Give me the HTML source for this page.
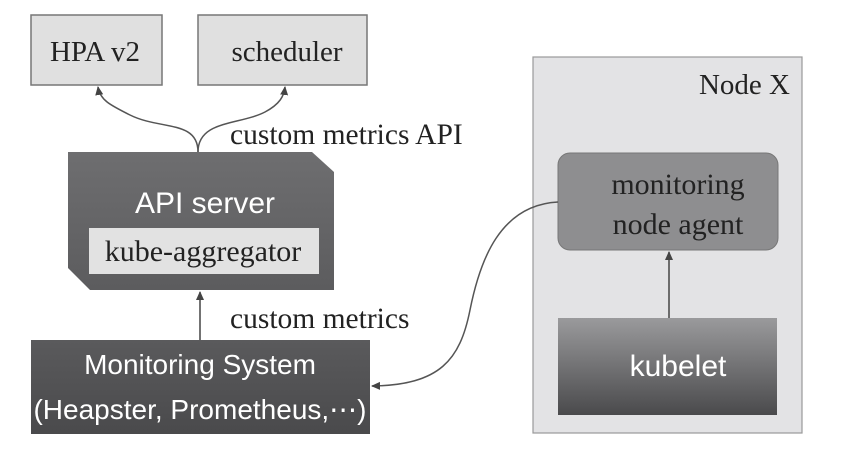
<!DOCTYPE html>
<html><head><meta charset="utf-8"><style>
body{margin:0;background:#fff;}
svg{display:block;}
.s{font-family:"Liberation Serif",serif;fill:#222;}
.a{font-family:"Liberation Sans",sans-serif;fill:#fff;}
</style></head><body>
<svg width="851" height="456" viewBox="0 0 851 456">
<defs>
<linearGradient id="k" x1="0" y1="0" x2="0" y2="1"><stop offset="0" stop-color="#9a9a9c"/><stop offset="1" stop-color="#4a4a4c"/></linearGradient>
<linearGradient id="ap" x1="0" y1="0" x2="0" y2="1"><stop offset="0" stop-color="#6e6e70"/><stop offset="1" stop-color="#5c5c5e"/></linearGradient>
<linearGradient id="ms" x1="0" y1="0" x2="0" y2="1"><stop offset="0" stop-color="#5a5a5c"/><stop offset="1" stop-color="#4a4a4c"/></linearGradient>
<marker id="m" markerWidth="10" markerHeight="10" refX="8" refY="5" orient="auto" markerUnits="userSpaceOnUse"><path d="M0,1 L9,5 L0,9 z" fill="#444"/></marker>
</defs>
<rect x="31" y="15" width="131" height="70" fill="#e0e0e0" stroke="#777" stroke-width="1.5"/>
<text x="95" y="61" class="s" font-size="29" text-anchor="middle">HPA v2</text>
<rect x="198" y="15" width="169" height="70" fill="#e0e0e0" stroke="#777" stroke-width="1.5"/>
<text x="287" y="61" class="s" font-size="29" text-anchor="middle">scheduler</text>
<path d="M198,152 C198,120 160,130 130,115 C110,105 100,100 98,87" fill="none" stroke="#555" stroke-width="1.5" marker-end="url(#m)"/>
<path d="M198,152 C198,120 240,125 265,112 C280,104 284,96 285,87" fill="none" stroke="#555" stroke-width="1.5" marker-end="url(#m)"/>
<text x="230" y="144" class="s" font-size="29.5">custom metrics API</text>
<path d="M68,152 L312,152 L334,172 L334,290 L90,290 L68,268 z" fill="url(#ap)"/>
<text x="205" y="213" class="a" font-size="30" text-anchor="middle">API server</text>
<rect x="89" y="228" width="230" height="46" fill="#e2e2e2"/>
<text x="203" y="261" class="s" font-size="30" text-anchor="middle">kube-aggregator</text>
<line x1="200" y1="340" x2="200" y2="292" stroke="#444" stroke-width="1.5" marker-end="url(#m)"/>
<text x="230" y="328" class="s" font-size="29.5">custom metrics</text>
<rect x="31" y="340" width="339" height="94" fill="url(#ms)"/>
<text x="200" y="374" class="a" font-size="28" text-anchor="middle">Monitoring System</text>
<text x="200" y="419" class="a" font-size="28" text-anchor="middle">(Heapster, Prometheus,⋯)</text>
<rect x="533" y="57" width="269" height="376" fill="#e3e3e5" stroke="#999" stroke-width="1.2"/>
<text x="790" y="94" class="s" font-size="29" text-anchor="end">Node X</text>
<rect x="558" y="153" width="220" height="97" rx="12" fill="#8e8e90" stroke="#777"/>
<text x="678" y="194" class="s" font-size="30" text-anchor="middle">monitoring</text>
<text x="678" y="234" class="s" font-size="30" text-anchor="middle">node agent</text>
<path d="M558,202 C500,205 480,260 470,310 C460,360 440,385 372,386" fill="none" stroke="#555" stroke-width="1.5" marker-end="url(#m)"/>
<rect x="558" y="318" width="219" height="97" fill="url(#k)"/>
<text x="678" y="376" class="a" font-size="30" text-anchor="middle">kubelet</text>
<line x1="669" y1="318" x2="669" y2="252" stroke="#444" stroke-width="1.5" marker-end="url(#m)"/>
</svg>
</body></html>
